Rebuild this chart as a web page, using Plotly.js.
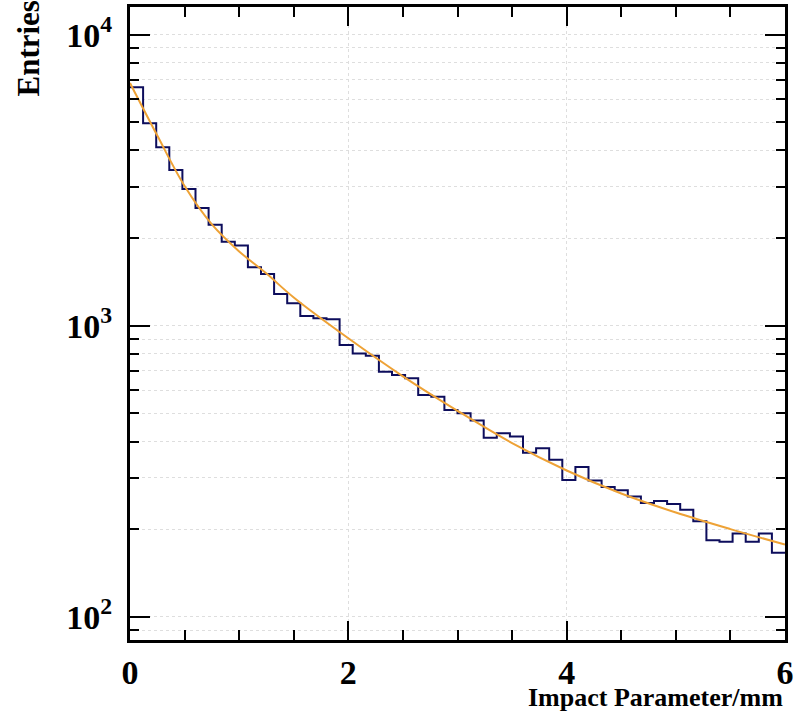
<!DOCTYPE html>
<html>
<head>
<meta charset="utf-8">
<script src="https://cdn.plot.ly/plotly-3.0.1.min.js"></script>
<style>
  html, body { margin: 0; padding: 0; background: #ffffff; }
  #chart { width: 795px; height: 727px; }
</style>
</head>
<body>
<div id="chart"></div>
<script>
// Histogram: 50 bins of 0.12 mm from 0 to 6 mm
const binStart = 0;
const binWidth = 0.12;
const counts = [
  6595, 4961, 4103, 3429, 2950, 2538, 2224, 1944, 1884, 1587,
  1505, 1285, 1194, 1080, 1060, 1052, 858, 803, 788, 695,
  677, 660, 578, 570, 513, 500, 472, 412, 427, 416,
  366, 379, 346, 295, 327, 294, 279, 272, 259, 246,
  250, 244, 233, 213, 183, 181, 193, 181, 193, 166
];

// Fit curve
const fitX = [0, 0.25, 0.5, 0.75, 1.0, 1.25, 1.5, 2.0, 2.5, 3.0, 3.5, 4.0, 4.5, 5.0, 5.5, 6.0];
const fitY = [6820, 4500, 3020, 2230, 1800, 1510, 1250, 905, 670, 510, 395, 318, 265, 228, 200, 177];

// Axis ticks
const xMajor = [0, 2, 4, 6];
const xMajorText = ['0', '2', '4', '6'];
const yMajor = [100, 1000, 10000];
const yMajorText = ['10<sup>2</sup>', '10<sup>3</sup>', '10<sup>4</sup>'];
const yMinor = [90, 200, 300, 400, 500, 600, 700, 800, 900,
                2000, 3000, 4000, 5000, 6000, 7000, 8000, 9000];

// Step outline from bin edges
const stepX = [];
const stepY = [];
for (let i = 0; i < counts.length; i++) {
  stepX.push(binStart + i * binWidth);
  stepY.push(counts[i]);
}
stepX.push(binStart + counts.length * binWidth);
stepY.push(counts[counts.length - 1]);

const serif = 'Liberation Serif, Times New Roman, serif';
const gridCol = '#dedede';

const traces = [
  {
    type: 'scatter', mode: 'lines', x: stepX, y: stepY,
    line: { shape: 'hv', color: '#0d0d5c', width: 2 },
    hoverinfo: 'skip', showlegend: false
  },
  {
    type: 'scatter', mode: 'lines', x: fitX, y: fitY,
    line: { shape: 'spline', smoothing: 1, color: '#eea236', width: 2 },
    hoverinfo: 'skip', showlegend: false
  }
];

const layout = {
  width: 795, height: 727,
  margin: { l: 130, r: 10, t: 7, b: 87 },
  paper_bgcolor: '#ffffff', plot_bgcolor: '#ffffff',
  showlegend: false,
  xaxis: {
    range: [0, 6],
    tickmode: 'array', tickvals: xMajor, ticktext: xMajorText,
    ticks: 'inside', ticklen: 19, tickwidth: 2, tickcolor: '#000',
    showline: true, linewidth: 3, linecolor: '#000', mirror: 'ticks',
    showgrid: true, gridcolor: gridCol, griddash: 'dot', gridwidth: 1,
    zeroline: false,
    tickfont: { family: serif, size: 34, color: '#000', weight: 'bold' },
    ticklabelstandoff: 0,
    minor: { dtick: 0.5, ticks: 'inside', ticklen: 10, tickwidth: 2, tickcolor: '#000', showgrid: false }
  },
  yaxis: {
    type: 'log',
    range: [1.92, 4.095],
    tickmode: 'array', tickvals: yMajor, ticktext: yMajorText,
    ticks: 'inside', ticklen: 20, tickwidth: 2, tickcolor: '#000',
    showline: true, linewidth: 3, linecolor: '#000', mirror: 'ticks',
    showgrid: true, gridcolor: gridCol, griddash: 'dot', gridwidth: 1,
    zeroline: false,
    tickfont: { family: serif, size: 34, color: '#000', weight: 'bold' },
    ticklabelstandoff: 8,
    minor: { tickmode: 'array', tickvals: yMinor, ticks: 'inside', ticklen: 9, tickwidth: 2, tickcolor: '#000',
             showgrid: true, gridcolor: gridCol, griddash: 'dot', gridwidth: 1 }
  },
  annotations: [
    {
      text: 'Impact Parameter/mm', xref: 'paper', yref: 'paper',
      x: 1.0, y: 0, xanchor: 'right', yanchor: 'top', yshift: -41, xshift: 0,
      showarrow: false,
      font: { family: serif, size: 26, color: '#000', weight: 'bold' }
    },
    {
      text: 'Entries', xref: 'paper', yref: 'paper',
      x: 0, y: 1, xanchor: 'left', yanchor: 'top', xshift: -122, yshift: 8,
      textangle: -90, showarrow: false,
      font: { family: serif, size: 31, color: '#000', weight: 'bold' }
    }
  ]
};

Plotly.newPlot('chart', traces, layout, { staticPlot: true, displayModeBar: false });
</script>
</body>
</html>
